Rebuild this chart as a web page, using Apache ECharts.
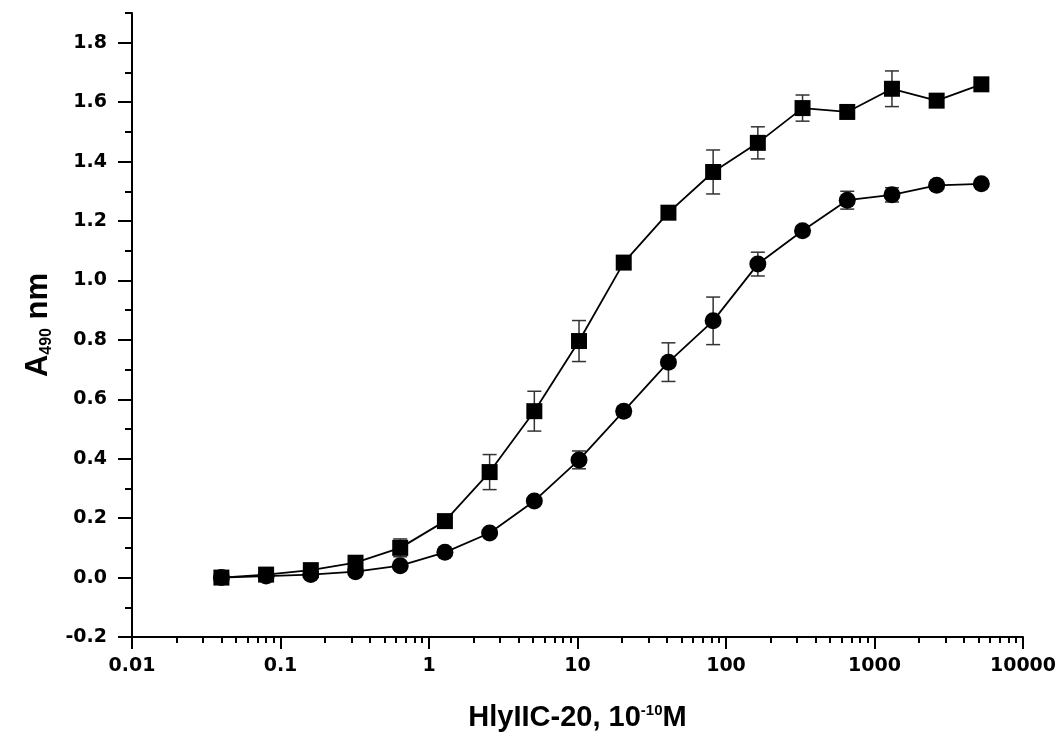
<!DOCTYPE html>
<html>
<head>
<meta charset="utf-8">
<script src="https://cdn.jsdelivr.net/npm/echarts@6/dist/echarts.min.js"></script>
<style>
  html, body { margin: 0; padding: 0; background: #fff; }
  #main { width: 1061px; height: 740px; }
</style>
</head>
<body>
<div id="main"></div>
<script>
  // concentration, 10^-10 M (two-fold dilutions)
  var conc = [0.04, 0.08, 0.16, 0.32, 0.64, 1.28, 2.56, 5.12, 10.24, 20.48,
    40.96, 81.92, 163.84, 327.68, 655.36, 1310.72, 2621.44, 5242.88];

  // squares
  var squareY = [0.0, 0.01, 0.025, 0.05, 0.10, 0.19, 0.355, 0.56, 0.796, 1.06,
    1.228, 1.365, 1.463, 1.58, 1.567, 1.645, 1.605, 1.66];
  var squareErr = [0.005, 0.01, 0.01, 0.02, 0.03, 0.01, 0.059, 0.067, 0.069, 0.01,
    0.01, 0.074, 0.054, 0.044, 0.01, 0.06, 0.01, 0.01];

  // circles
  var circleY = [0.0, 0.005, 0.01, 0.02, 0.04, 0.085, 0.15, 0.258, 0.396, 0.56,
    0.725, 0.864, 1.055, 1.167, 1.27, 1.288, 1.32, 1.325];
  var circleErr = [0, 0, 0, 0, 0.01, 0.01, 0.01, 0.01, 0.03, 0.015,
    0.065, 0.08, 0.04, 0.015, 0.03, 0.024, 0.01, 0.01];

  var xMajor = [0.01, 0.1, 1, 10, 100, 1000, 10000];
  var xMinor = [0.02, 0.03, 0.04, 0.05, 0.06, 0.07, 0.08, 0.09,
    0.2, 0.3, 0.4, 0.5, 0.6, 0.7, 0.8, 0.9,
    2, 3, 4, 5, 6, 7, 8, 9,
    20, 30, 40, 50, 60, 70, 80, 90,
    200, 300, 400, 500, 600, 700, 800, 900,
    2000, 3000, 4000, 5000, 6000, 7000, 8000, 9000];
  var yMajor = [-0.2, 0.0, 0.2, 0.4, 0.6, 0.8, 1.0, 1.2, 1.4, 1.6, 1.8];
  var yMinor = [-0.1, 0.1, 0.3, 0.5, 0.7, 0.9, 1.1, 1.3, 1.5, 1.7, 1.9];

  var labelFont = { fontFamily: 'DejaVu Sans', fontWeight: 'bold', fontSize: 19, color: '#000' };

  function pairs(ys) {
    return conc.map(function (x, i) { return [x, ys[i]]; });
  }
  function triples(ys, errs) {
    return conc.map(function (x, i) { return [x, ys[i], errs[i]]; });
  }

  function renderErr(params, api) {
    var x = api.value(0), y = api.value(1), e = api.value(2);
    if (!e) return null;
    var hi = api.coord([x, y + e]);
    var lo = api.coord([x, y - e]);
    var w = 7;
    var st = { stroke: '#333', lineWidth: 1.5 };
    return {
      type: 'group',
      children: [
        { type: 'line', shape: { x1: hi[0], y1: hi[1], x2: lo[0], y2: lo[1] }, style: st },
        { type: 'line', shape: { x1: hi[0] - w, y1: hi[1], x2: hi[0] + w, y2: hi[1] }, style: st },
        { type: 'line', shape: { x1: lo[0] - w, y1: lo[1], x2: lo[0] + w, y2: lo[1] }, style: st }
      ]
    };
  }

  var chart = echarts.init(document.getElementById('main'));

  var option = {
    animation: false,
    backgroundColor: '#fff',
    grid: { left: 132, right: 38, top: 13, bottom: 103, containLabel: false },
    xAxis: [
      {
        type: 'log',
        logBase: 10,
        min: 0.01,
        max: 10000,
        name: '{a|HlyIIC-20, 10}{s|-10}{a|M}',
        nameLocation: 'middle',
        nameGap: 66,
        nameTextStyle: {
          rich: {
            a: { fontFamily: 'Liberation Sans', fontWeight: 'bold', fontSize: 29, color: '#000' },
            s: { fontFamily: 'Liberation Sans', fontWeight: 'bold', fontSize: 15, color: '#000', padding: [0, 0, 14, 0] }
          }
        },
        axisLine: { show: true, onZero: false, lineStyle: { color: '#000', width: 2 } },
        axisTick: { show: true, inside: false, length: 12, customValues: xMajor, lineStyle: { color: '#000', width: 2 } },
        axisLabel: Object.assign({
          show: true,
          margin: 20,
          customValues: xMajor,
          formatter: function (v) { return String(Number(v.toPrecision(1))); }
        }, labelFont),
        splitLine: { show: false },
        minorTick: { show: false }
      },
      {
        type: 'log',
        logBase: 10,
        min: 0.01,
        max: 10000,
        position: 'bottom',
        axisLine: { show: false, onZero: false },
        axisTick: { show: true, inside: false, length: 6, customValues: xMinor, lineStyle: { color: '#000', width: 2 } },
        axisLabel: { show: false },
        splitLine: { show: false }
      }
    ],
    yAxis: [
      {
        type: 'value',
        min: -0.2,
        max: 1.9,
        interval: 0.2,
        name: '{a|A}{s|490}{a| nm}',
        nameLocation: 'middle',
        nameGap: 72,
        nameTextStyle: {
          rich: {
            a: { fontFamily: 'Liberation Sans', fontWeight: 'bold', fontSize: 31, color: '#000' },
            s: { fontFamily: 'Liberation Sans', fontWeight: 'bold', fontSize: 16, color: '#000', padding: [16, 0, 0, 0] }
          }
        },
        axisLine: { show: true, onZero: false, lineStyle: { color: '#000', width: 2 } },
        axisTick: { show: true, inside: false, length: 14, customValues: yMajor, lineStyle: { color: '#000', width: 2 } },
        axisLabel: Object.assign({
          show: true,
          margin: 25,
          customValues: yMajor,
          formatter: function (v) { return v.toFixed(1); }
        }, labelFont),
        splitLine: { show: false }
      },
      {
        type: 'value',
        min: -0.2,
        max: 1.9,
        interval: 0.2,
        position: 'left',
        axisLine: { show: false, onZero: false },
        axisTick: { show: true, inside: false, length: 7, customValues: yMinor, lineStyle: { color: '#000', width: 2 } },
        axisLabel: { show: false },
        splitLine: { show: false }
      }
    ],
    series: [
      {
        type: 'custom',
        name: 'err1',
        renderItem: renderErr,
        data: triples(squareY, squareErr),
        z: 1
      },
      {
        type: 'custom',
        name: 'err2',
        renderItem: renderErr,
        data: triples(circleY, circleErr),
        z: 1
      },
      {
        type: 'line',
        name: 'squares',
        data: pairs(squareY),
        symbol: 'rect',
        symbolSize: 16,
        itemStyle: { color: '#000' },
        lineStyle: { color: '#000', width: 1.8 },
        z: 3
      },
      {
        type: 'line',
        name: 'circles',
        data: pairs(circleY),
        symbol: 'circle',
        symbolSize: 17,
        itemStyle: { color: '#000' },
        lineStyle: { color: '#000', width: 1.8 },
        z: 3
      }
    ]
  };

  chart.setOption(option);

  window.addEventListener('resize', function () {
    chart.resize();
  });
</script>
</body>
</html>
